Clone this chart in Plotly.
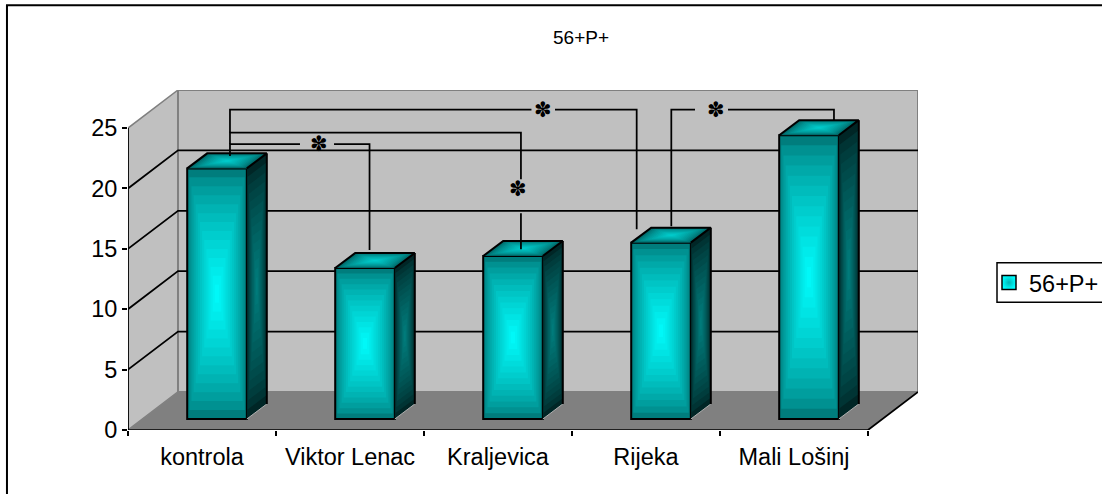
import plotly.graph_objects as go

categories = ["kontrola", "Viktor Lenac", "Kraljevica", "Rijeka", "Mali Lošinj"]
values = [20.75, 12.5, 13.5, 14.6, 23.5]
y_ticks = [0, 5, 10, 15, 20, 25]
series_name = "56+P+"
title_text = "56+P+"

# Oblique-projection settings, in axis units
WALL_DX, WALL_DY = 0.3378, 3.151      # depth of the whole floor
BAR_X0, BAR_Y0 = 0.1014, 0.91         # where the bar front sits on the floor
BAR_DX, BAR_DY = 0.135, 1.244         # depth of one bar
BAR_W = 0.403
LEVELS = 14
X0, X1 = -0.5, 4.5

FONT = "Liberation Sans, Arial, sans-serif"
DARK = "#808080"
WALL = "#C0C0C0"
TICK_SIZE = 23.5


def lerp(edge, centre, k, gamma=0.7):
    c = round(edge + (centre - edge) * k ** gamma)
    return "rgb(0,%d,%d)" % (c, c)


def path(pts, close=True):
    return "M" + " L".join(f"{x:.4f} {y:.4f}" for x, y in pts) + (" Z" if close else "")


shapes = []
# left wall, back wall, floor
shapes.append(dict(type="path", layer="below", fillcolor=WALL, line=dict(color=DARK, width=1.5),
                   path=path([(X0, 0), (X0, 25), (X0 + WALL_DX, 25 + WALL_DY), (X0 + WALL_DX, WALL_DY)])))
shapes.append(dict(type="path", layer="below", fillcolor=WALL, line=dict(color=DARK, width=2),
                   path=path([(X0 + WALL_DX, WALL_DY), (X0 + WALL_DX, 25 + WALL_DY),
                              (X1 + WALL_DX, 25 + WALL_DY), (X1 + WALL_DX, WALL_DY)])))
shapes.append(dict(type="path", layer="below", fillcolor=DARK, line=dict(width=0),
                   path=path([(X0, 0), (X1, 0), (X1 + WALL_DX, WALL_DY), (X0 + WALL_DX, WALL_DY)])))
# gridlines on the walls
for v in y_ticks[1:-1]:
    shapes.append(dict(type="path", layer="below", line=dict(color="black", width=1.75),
                       path=path([(X0, v), (X0 + WALL_DX, v + WALL_DY), (X1 + WALL_DX, v + WALL_DY)], close=False)))
# front edges of the floor and value axis
shapes.append(dict(type="path", layer="below", line=dict(color="black", width=1.75),
                   path=path([(X0, 25), (X0, 0), (X1, 0), (X1 + WALL_DX, WALL_DY)], close=False)))
# chart frame (open on the right and at the bottom, as cropped)
PX = 790.0
PY = 340.5
shapes.append(dict(type="path", xref="paper", yref="paper", line=dict(color="black", width=2),
                   path=path([(-121 / PX, -64 / PY), (-121 / PX, 1 + 85 / PY), (974 / PX, 1 + 85 / PY)], close=False)))
# legend box (runs off the right edge of the picture)
shapes.append(dict(type="path", xref="paper", yref="paper", fillcolor="white", line=dict(color="black", width=1.5),
                   path=path([(980 / PX, 1 - 173 / PY), (869 / PX, 1 - 173 / PY),
                              (869 / PX, 1 - 212.5 / PY), (980 / PX, 1 - 212.5 / PY)], close=False)))

fig = go.Figure()
xs = [i + BAR_X0 for i in range(len(values))]

# front faces: nested bars give the rectangular gradient
for L in range(LEVELS):
    t = 1 - L / LEVELS
    col = lerp(125, 255, 1 - t)
    fig.add_trace(go.Bar(x=xs, y=[v * t for v in values],
                         base=[BAR_Y0 + v * (1 - t) / 2 for v in values],
                         width=BAR_W * t, marker=dict(color=col, line=dict(width=0)),
                         showlegend=False, hoverinfo="skip"))
fig.add_trace(go.Bar(x=xs, y=values, base=[BAR_Y0] * len(values), width=BAR_W,
                     marker=dict(color="rgba(0,0,0,0)", line=dict(color="black", width=2)),
                     showlegend=False, hoverinfo="skip"))

# side and top faces
for L in range(LEVELS):
    t = 1 - L / LEVELS
    a, b = 0.5 - t / 2, 0.5 + t / 2
    side_x, side_y, top_x, top_y = [], [], [], []
    for x, v in zip(xs, values):
        xr, xl = x + BAR_W / 2, x - BAR_W / 2
        corners = [(a, a), (b, a), (b, b), (a, b), (a, a)]
        for u, w in corners:
            side_x.append(xr + u * BAR_DX)
            side_y.append(BAR_Y0 + w * v + u * BAR_DY)
            top_x.append(xl + w * BAR_W + u * BAR_DX)
            top_y.append(BAR_Y0 + v + u * BAR_DY)
        side_x.append(None); side_y.append(None); top_x.append(None); top_y.append(None)
    fig.add_trace(go.Scatter(x=side_x, y=side_y, mode="lines", fill="toself", line=dict(width=0),
                             fillcolor=lerp(38, 128, 1 - t, 0.7), showlegend=False, hoverinfo="skip"))
    fig.add_trace(go.Scatter(x=top_x, y=top_y, mode="lines", fill="toself", line=dict(width=0),
                             fillcolor=lerp(90, 208, 1 - t, 0.6), showlegend=False, hoverinfo="skip"))

# light lower edge of the side faces
lx, ly = [], []
for x in xs:
    xr = x + BAR_W / 2
    lx += [xr, xr + BAR_DX, None]
    ly += [BAR_Y0, BAR_Y0 + BAR_DY, None]
fig.add_trace(go.Scatter(x=lx, y=ly, mode="lines", line=dict(color="#B0B0B0", width=1),
                         showlegend=False, hoverinfo="skip"))

# bar outlines
ox, oy = [], []
for x, v in zip(xs, values):
    xr, xl = x + BAR_W / 2, x - BAR_W / 2
    top = BAR_Y0 + v
    ox += [xl, xl + BAR_DX, xr + BAR_DX, xr, None, xr + BAR_DX, xr + BAR_DX, None]
    oy += [top, top + BAR_DY, top + BAR_DY, top, None, top + BAR_DY, BAR_Y0 + BAR_DY, None]
fig.add_trace(go.Scatter(x=ox, y=oy, mode="lines", line=dict(color="black", width=2),
                         showlegend=False, hoverinfo="skip"))

# significance brackets, in axis units
brackets = [
    ([0.189, 0.189, 0.662], [22.68, 23.67, 23.67]),
    ([0.892, 1.132, 1.132], [23.67, 23.67, 14.91]),
    ([0.189, 0.189, 2.155, 2.155], [23.67, 24.63, 24.63, 20.77]),
    ([2.155, 2.155], [17.95, 14.97]),
    ([0.189, 0.189, 2.226], [24.63, 26.52, 26.52]),
    ([2.385, 2.937, 2.937], [26.52, 26.52, 16.63]),
    ([3.171, 3.171, 3.331], [16.87, 26.52, 26.52]),
    ([3.554, 4.270, 4.270], [26.52, 26.52, 25.58]),
]
for bx, by in brackets:
    fig.add_trace(go.Scatter(x=bx, y=by, mode="lines", line=dict(color="black", width=1.75),
                             showlegend=False, hoverinfo="skip"))
stars = [(0.791, 23.67), (2.135, 19.94), (2.304, 26.52), (3.473, 26.52)]
annotations = [dict(x=sx, y=sy, text="✽", showarrow=False, font=dict(family="DejaVu Sans", size=21, color="black"),
                    xanchor="center", yanchor="middle") for sx, sy in stars]

# legend entry
fig.add_trace(go.Scatter(x=[None], y=[None], mode="markers", name=series_name, showlegend=True,
                         marker=dict(symbol="square", size=14, color="#00FFFF",
                                     gradient=dict(type="radial", color="#00B4B4"),
                                     line=dict(color="black", width=1.5))))

fig.update_layout(
    width=1102, height=494,
    margin=dict(l=128, r=184, t=90, b=63.5, pad=0, autoexpand=False),
    paper_bgcolor="white", plot_bgcolor="white",
    barmode="overlay",
    font=dict(family=FONT, size=TICK_SIZE, color="black"),
    title=dict(text=title_text, x=581 / 1102, xanchor="center", y=1 - 37 / 494, yanchor="middle",
               font=dict(family=FONT, size=19, color="black")),
    xaxis=dict(range=[X0, X1 + WALL_DX], tickvals=list(range(len(categories))), ticktext=categories,
               showgrid=False, zeroline=False, showline=False, ticks="outside", ticklen=6,
               tickcolor="rgba(0,0,0,0)", tickfont=dict(family=FONT, size=TICK_SIZE),
               minor=dict(tickvals=[i - 0.5 for i in range(len(categories) + 1)], ticks="outside",
                          ticklen=5, tickwidth=1.75, tickcolor="black", showgrid=False)),
    yaxis=dict(range=[0, 25 + WALL_DY], tickvals=y_ticks, showgrid=False, zeroline=False, showline=False,
               ticks="outside", ticklen=5, tickwidth=1.75, tickcolor="black",
               tickfont=dict(family=FONT, size=TICK_SIZE)),
    legend=dict(x=(989 - 128) / PX, xanchor="left", y=1 - (261 - 90) / PY, yanchor="top",
                bgcolor="rgba(0,0,0,0)", borderwidth=0,
                font=dict(family=FONT, size=TICK_SIZE), itemwidth=30),
    shapes=shapes, annotations=annotations, hovermode=False,
)

fig.write_html("out.html", config=dict(displayModeBar=False),
               post_script="document.body.style.margin='0';document.body.style.overflow='hidden';")
